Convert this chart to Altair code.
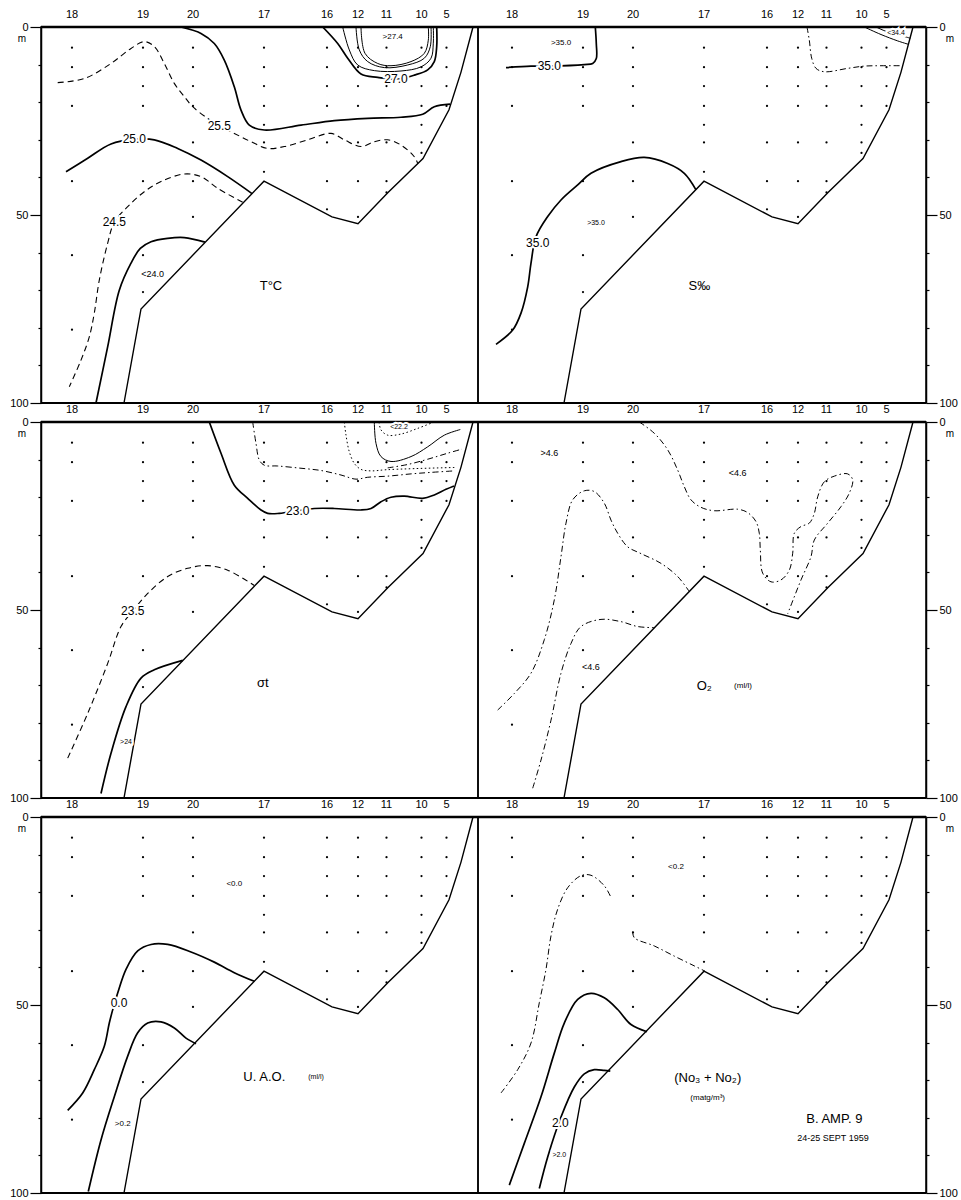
import altair as alt
import pandas as pd

FONT = "Liberation Sans"
W_LEFT, W_RIGHT, H = 437, 448, 376
X_LEFT, X_RIGHT = [0, 437], [-3, 445]

# ---------------- stations & sample points ----------------
STATIONS = ["18", "19", "20", "17", "16", "12", "11", "10", "5"]
STATION_X = [31, 102, 152, 223, 286, 317, 345.5, 380.5, 405.5]
DEPTHS_18 = [5.5, 10.7, 21, 41, 60.7, 80.5]
DEPTHS_19 = [5.5, 10.7, 15.7, 21, 41, 60.7, 70.5]
DEPTHS_20 = [5.5, 10.7, 15.7, 21, 30.7, 41, 50.5]
DEPTHS_17 = [5.5, 10.7, 15.7, 21, 26, 30.7, 38.5]
DEPTHS_16 = [5.5, 10.7, 15.7, 21, 30.7, 41, 48.5]
DEPTHS_12 = [5.5, 10.7, 15.7, 21, 30.7, 41, 50.5]
DEPTHS_11 = [5.5, 10.7, 15.7, 21, 30.7, 41, 44]
DEPTHS_10 = [5.5, 10.7, 15.7, 21, 26, 30.7, 33.5]
DEPTHS_5 = [5.5, 10.7, 15.7, 21]
SAMPLE_DEPTHS = [DEPTHS_18, DEPTHS_19, DEPTHS_20, DEPTHS_17, DEPTHS_16,
                 DEPTHS_12, DEPTHS_11, DEPTHS_10, DEPTHS_5]

SEAFLOOR = [(83, 100), (100, 75), (223, 41), (291, 50.5), (317, 52.3),
            (347, 44), (382, 35), (408, 22), (420, 12), (432, 0)]

# ---------------- T °C ----------------
T_27_0 = [(281.7, 0), (296.7, 4.4), (306.7, 8.3), (320, 12.5), (336.7, 13.4), (355, 13.9),
          (373.3, 12.8), (386.7, 11.4), (393.3, 9.2), (395.7, 5.2), (395.7, 0)]
T_27_B = [(301.7, 0), (308.3, 6.1), (316.7, 10.1), (333.3, 11.6), (360, 11.7), (380, 10.6),
          (390, 8.3), (392.3, 4.3), (392.3, 0)]
T_27_C = [(315, 0), (318.3, 6.1), (326.7, 9.2), (343.3, 10.8), (366.7, 10.1), (383.3, 8.3),
          (389.3, 5.2), (390, 0)]
T_27_D = [(320, 0), (324, 7), (336.7, 9.7), (350, 10.3), (370, 9.2), (383.3, 7),
          (387.3, 3.5), (387.3, 0)]
T_26 = [(140, 0), (160, 1.7), (173.3, 4.4), (183.3, 8.8), (193.3, 15.9), (200, 22.1),
        (208.3, 26.1), (223.3, 27.4), (260, 26.1), (293.3, 24.9), (326.7, 24.3), (360, 24),
        (381.7, 23.2), (393.3, 21.2), (409, 20.5)]
T_25_5 = [(16.7, 14.8), (43.3, 13.7), (70, 9.7), (90, 5.7), (103.3, 3.9), (113.3, 5.2),
          (123.3, 9.7), (133.3, 15), (143.3, 18.5), (151.7, 21.2), (166.7, 24.3), (178.3, 26.3),
          (193.3, 28.3), (210, 30.5), (226.7, 32.3), (243.3, 31.8), (266.7, 30), (290, 28.3),
          (303.3, 30), (320, 31.8), (333.3, 30.5), (346.7, 30), (360, 31.4), (373.3, 34.5),
          (376.7, 36.3)]
T_25_0 = [(25, 38.5), (46.7, 34.9), (70, 31.1), (93.3, 29.9), (113.3, 30), (136.7, 32.3),
          (160, 35.4), (186.7, 39.8), (211, 44.3)]
T_24_5 = [(201.7, 46.6), (176.7, 42.9), (160, 39.8), (143.3, 39.1), (120, 41.1), (103.3, 43.8),
          (86.7, 47.8), (73.3, 51.9), (66.7, 57.5), (58.3, 67.3), (53.3, 76.1), (48.3, 82.4),
          (40, 88.6), (28.3, 95.7)]
T_24_0 = [(55, 100), (66.7, 85), (78.3, 70), (90, 62.8), (99.3, 58.9), (110, 57.1),
          (126.7, 56.2), (143.3, 56), (164, 57.2)]
T_TEXT = [">27.4", "27.0", "25.5", "25.0", "24.5", "<24.0", "T°C"]
T_TEXT_X = [351.7, 355, 178.3, 93.3, 73.3, 111.7, 230]
T_TEXT_D = [2.6, 13.9, 26.3, 29.9, 51.9, 65.7, 68.9]
T_TEXT_KIND = ["s", "b", "b", "b", "b", "m", "t"]

# ---------------- S ‰ ----------------
S_35_TOP = [(114.3, 0), (115.3, 4.4), (115.3, 8.4), (111.7, 9.7), (103.3, 10), (68.3, 10.4),
            (50, 10.4), (25, 10.8)]
S_35_LOW = [(15, 84.4), (31.7, 80.6), (40, 76.1), (46.7, 69.1), (50, 62.8), (55, 55.8),
            (66.7, 50.4), (80, 46), (96.7, 42), (110, 38.9), (140, 35.8), (163.3, 34.7),
            (186.7, 36.3), (203.3, 38.9), (215, 43.3)]
S_COAST = [(326, 0), (328.3, 3.5), (330.7, 8.3), (335, 11), (343.3, 11.9), (366.7, 11),
           (383.3, 10.4), (400, 10.3), (421, 10.3)]
S_34_4_A = [(383.3, 0), (400, 2), (416.7, 3.7), (427.3, 4.6)]
S_34_4_B = [(395, 0), (408.3, 1.5), (421.7, 2.4), (429.3, 3)]
S_TEXT = [">35.0", "35.0", "<34.4", "35.0", ">35.0", "S‰"]
S_TEXT_X = [80, 68.3, 415, 56.7, 115, 218.3]
S_TEXT_D = [4.2, 10.4, 1.5, 57.4, 52.2, 69]
S_TEXT_KIND = ["s", "b", "xs", "b", "xs", "t"]

# ---------------- sigma-t ----------------
G_23_0 = [(168.3, 0), (180, 8.3), (193.3, 16.8), (206.7, 20.3), (220, 23.4), (226.7, 24.3),
          (238.3, 24.3), (256.7, 23.6), (273.3, 23), (293.3, 23), (320, 23.4), (330, 23),
          (340, 21.2), (350, 20), (363.3, 19.7), (381.7, 20.3), (393.3, 19.4), (405, 17.9),
          (413, 17)]
G_A = [(211.7, 0), (215, 5.7), (218.3, 10.1), (223.3, 11.5), (236.7, 11.7), (260, 12.3),
       (280, 12.9), (300, 14.1), (315, 15.2), (326.7, 14.7), (346.7, 14.4), (370, 13.8),
       (390, 13.4), (413.3, 13)]
G_B = [(303.3, 0), (305, 3.5), (308.3, 7.9), (313.3, 11), (320, 12.6), (330, 13),
       (345, 12.7), (373.3, 12.4), (413.3, 12.1)]
G_C = [(333.3, 0), (335, 5.7), (340, 9.2), (350, 10.5), (370, 9.2), (386.7, 6.6),
       (403.3, 3.5), (419.3, 2)]
G_D = [(346.7, 12.2), (366.7, 11.3), (386.7, 9.9), (406.7, 8.3), (421, 7.2)]
G_E = [(338, 0), (340, 2.1), (346.7, 3.5), (360, 3.2), (376.7, 1.7), (393, 0)]
G_23_5 = [(26.7, 89.4), (46.7, 77.5), (66.7, 64.2), (80, 54.4), (91.7, 50.3), (106.7, 45.6),
          (126.7, 41.1), (146.7, 38.9), (166.7, 38.2), (186.7, 39.4), (213.3, 43.5)]
G_24 = [(60, 98.8), (70, 88.1), (85, 75.7), (100, 68.1), (113.3, 65.9), (141.7, 63.4)]
G_TEXT = ["<22.2", "23.0", "23.5", ">24", "σt"]
G_TEXT_X = [358, 256.7, 91.7, 85, 221.7]
G_TEXT_D = [1.3, 23.6, 50.3, 85, 69.5]
G_TEXT_KIND = ["xs", "b", "b", "xs", "t"]

# ---------------- O2 ----------------
O_A = [(158.3, 0), (173.3, 3), (186.7, 7.4), (196.7, 12.8), (203.3, 17.2), (210, 20.7),
       (220, 22.7), (233.3, 23.6), (256.7, 23.2), (266.7, 24.1), (275, 26.5), (278.3, 29.6),
       (279.3, 34), (281.7, 40.2), (290, 42.5), (300, 42), (308.3, 39.4), (311.7, 34.9),
       (313.3, 29.6), (320, 27.8), (328.3, 26.9), (333.3, 24.3), (336.7, 19.9), (343.3, 15.9),
       (353.3, 14.4), (366.7, 13.8), (371.7, 15.4), (368.3, 18.9), (360, 22.5), (346.7, 26.9),
       (333.3, 31.4), (330, 35.8), (320, 42), (306.7, 51)]
O_B = [(16.7, 76.6), (33.3, 72.2), (50, 66.8), (63.3, 57.9), (73.3, 47.3), (80, 35.8),
       (85, 26.9), (91.7, 20.7), (103.3, 18.3), (113.3, 18.5), (123.3, 21.6), (130, 26.1),
       (136.7, 29.6), (146.7, 33.2), (160, 35), (180, 37.6), (196.7, 41.1), (208.3, 45.1)]
O_C = [(51.7, 97.4), (60, 89.9), (70, 79.3), (80, 66.8), (90, 58.9), (100, 54.4),
       (120, 52.5), (140, 53.1), (156.7, 54.4), (173.3, 54.7)]
O_TEXT = [">4.6", "<4.6", "<4.6", "O₂", "(ml/l)"]
O_TEXT_X = [68.3, 256.7, 110, 223.3, 262]
O_TEXT_D = [8.2, 13.6, 65.1, 70.2, 70.2]
O_TEXT_KIND = ["m", "m", "m", "t", "s"]

# ---------------- U.A.O. ----------------
U_0_0 = [(26.7, 78), (41.7, 73.4), (53.3, 67.2), (63.3, 61), (68.3, 54.8), (72.5, 50.5),
         (76.7, 46.8), (85, 40.5), (96.7, 35.6), (110, 33.9), (126.7, 33.9), (150, 35.9),
         (173.3, 38.6), (193.3, 41.4), (213.3, 43.7)]
U_0_2 = [(47.3, 99.6), (60, 85.9), (73.3, 74.4), (86.7, 63.6), (96.7, 57.4), (106.7, 54.8),
         (120, 54.5), (133.3, 56.1), (145, 58.8), (155, 60.3)]
U_TEXT = ["0.0", ">0.2", "<0.0", "U. A.O.", "(ml/l)"]
U_TEXT_X = [78, 81.7, 193.3, 223.3, 275]
U_TEXT_D = [49.6, 81.7, 17.9, 69.2, 69.2]
U_TEXT_KIND = ["b", "s", "s", "t", "xs"]

# ---------------- NO3 + NO2 ----------------
N_A = [(20, 73.4), (36.7, 67.2), (50, 60.1), (58.3, 49.4), (65, 40.5), (70, 31.6),
       (76.7, 24.5), (86.7, 18.8), (100, 15.6), (110, 15.5), (123.3, 18.3), (130, 21.4)]
N_B = [(151.7, 30.5), (153.3, 32.1), (173.3, 34.3), (193.3, 37), (213.3, 39.6), (224, 41)]
N_2_0 = [(28.3, 97.9), (43.3, 86.8), (60, 74.4), (73.3, 62.8), (83.3, 54.8), (96.7, 48.5),
         (110, 46.9), (123.3, 48.1), (136.7, 51.2), (150, 55.2), (166, 57.1)]
N_2_1 = [(58.3, 98.8), (66.7, 90.4), (80, 79.8), (93.3, 71.8), (103.3, 68.3), (113.3, 67.2),
         (123.3, 67.4), (129.3, 67.6)]
N_TEXT = ["2.0", ">2.0", "<0.2", "(No₃ + No₂)", "(matg/m³)", "B. AMP. 9", "24-25  SEPT  1959"]
N_TEXT_X = [79.3, 78.3, 195, 226.7, 226.7, 353.3, 352]
N_TEXT_D = [81.4, 90, 13.4, 69.5, 74.8, 80.3, 85.3]
N_TEXT_KIND = ["b", "xs", "s", "t", "s", "t", "m"]

# ---------------- styling ----------------
STYLE = {
    "bold": dict(strokeWidth=1.7),
    "thin": dict(strokeWidth=1.0),
    "dash": dict(strokeWidth=1.1, strokeDash=[6, 4]),
    "dashdot": dict(strokeWidth=1.0, strokeDash=[6, 3, 1.5, 3]),
    "dot": dict(strokeWidth=1.0, strokeDash=[1.5, 2.5]),
}
FSIZE = {"xs": 7, "s": 8, "m": 9, "b": 12, "t": 13}


def yenc(side):
    return alt.Y(
        "d:Q",
        scale=alt.Scale(domain=[0, 100], reverse=True, nice=False, zero=False),
        axis=alt.Axis(
            orient=side, values=list(range(0, 101, 10)),
            labelExpr="datum.value % 50 === 0 ? datum.label : ''",
            tickSize={"condition": {"test": "datum.value % 50 === 0", "value": 11}, "value": 3},
            title=None, grid=False, labelFontSize=11, labelFont=FONT, labelColor="black",
            tickColor="black", domainColor="black", domainWidth=1.5, tickWidth=1.2,
            labelPadding=2,
        ),
    )


def panel(curves, texts, tx, td, tk, w, dom, side):
    X = alt.X("x:Q", scale=alt.Scale(domain=dom, nice=False, zero=False), axis=None)
    Y = yenc(side)
    layers = []
    one = pd.DataFrame({"a": [0]})
    layers.append(alt.Chart(one).mark_rule(color="black", strokeWidth=2.6).encode(
        x=alt.value(0), x2=alt.value(w), y=alt.value(0)))
    layers.append(alt.Chart(one).mark_rule(color="black", strokeWidth=2).encode(
        x=alt.value(0), x2=alt.value(w), y=alt.value(H)))
    sf = pd.DataFrame({"x": [p[0] for p in SEAFLOOR], "d": [p[1] for p in SEAFLOOR],
                       "i": list(range(len(SEAFLOOR)))})
    layers.append(alt.Chart(sf).mark_line(color="black", strokeWidth=1.4).encode(
        x=X, y=Y, order="i:Q"))
    rows = []
    for k, (pts, style) in enumerate(curves):
        for i, (x, d) in enumerate(pts):
            rows.append({"x": x, "d": d, "i": i, "id": k, "style": style})
    cdf = pd.DataFrame(rows)
    for st in STYLE:
        sub = cdf[cdf["style"] == st]
        if len(sub) == 0:
            continue
        layers.append(alt.Chart(sub).mark_line(
            color="black", interpolate="catmull-rom", clip=True, **STYLE[st]).encode(
            x=X, y=Y, detail="id:N", order="i:Q"))
    drows = []
    for sx, deps in zip(STATION_X, SAMPLE_DEPTHS):
        for d in deps:
            drows.append({"x": sx, "d": d})
    layers.append(alt.Chart(pd.DataFrame(drows)).mark_circle(
        color="black", size=5, opacity=1).encode(x=X, y=Y))
    tdf = pd.DataFrame({"t": texts, "x": tx, "d": td, "fs": [FSIZE[k] for k in tk]})
    layers.append(alt.Chart(tdf).mark_text(
        font=FONT, stroke="white", strokeWidth=4, fill="white", baseline="middle").encode(
        x=X, y=Y, text="t:N", size=alt.Size("fs:Q", scale=None)))
    layers.append(alt.Chart(tdf).mark_text(
        font=FONT, color="black", baseline="middle").encode(
        x=X, y=Y, text="t:N", size=alt.Size("fs:Q", scale=None)))
    stdf = pd.DataFrame({"t": STATIONS, "x": STATION_X})
    layers.append(alt.Chart(stdf).mark_text(
        font=FONT, fontSize=11, color="black", baseline="middle").encode(
        x=X, y=alt.value(-12), text="t:N"))
    mx = -19 if side == "left" else w + 24
    layers.append(alt.Chart(pd.DataFrame({"t": ["m"]})).mark_text(
        font=FONT, fontSize=10, color="black", baseline="middle").encode(
        x=alt.value(mx), y=alt.value(12), text="t:N"))
    return alt.layer(*layers).properties(width=w, height=H)


p_T = panel([(T_27_0, "bold"), (T_27_B, "thin"), (T_27_C, "thin"), (T_27_D, "thin"),
             (T_26, "bold"), (T_25_5, "dash"), (T_25_0, "bold"), (T_24_5, "dash"),
             (T_24_0, "bold")],
            T_TEXT, T_TEXT_X, T_TEXT_D, T_TEXT_KIND, W_LEFT, X_LEFT, "left")
p_S = panel([(S_35_TOP, "bold"), (S_35_LOW, "bold"), (S_COAST, "dashdot"),
             (S_34_4_A, "thin"), (S_34_4_B, "thin")],
            S_TEXT, S_TEXT_X, S_TEXT_D, S_TEXT_KIND, W_RIGHT, X_RIGHT, "right")
p_G = panel([(G_23_0, "bold"), (G_A, "dashdot"), (G_B, "dot"), (G_C, "thin"),
             (G_D, "dashdot"), (G_E, "dot"), (G_23_5, "dash"), (G_24, "bold")],
            G_TEXT, G_TEXT_X, G_TEXT_D, G_TEXT_KIND, W_LEFT, X_LEFT, "left")
p_O = panel([(O_A, "dashdot"), (O_B, "dashdot"), (O_C, "dashdot")],
            O_TEXT, O_TEXT_X, O_TEXT_D, O_TEXT_KIND, W_RIGHT, X_RIGHT, "right")
p_U = panel([(U_0_0, "bold"), (U_0_2, "bold")],
            U_TEXT, U_TEXT_X, U_TEXT_D, U_TEXT_KIND, W_LEFT, X_LEFT, "left")
p_N = panel([(N_A, "dashdot"), (N_B, "dashdot"), (N_2_0, "bold"), (N_2_1, "bold")],
            N_TEXT, N_TEXT_X, N_TEXT_D, N_TEXT_KIND, W_RIGHT, X_RIGHT, "right")

chart = alt.concat(p_T, p_S, p_G, p_O, p_U, p_N, columns=2,
                   spacing={"row": 19, "column": 0}, bounds="flush").properties(
    padding={"left": 8, "top": 8, "right": 2, "bottom": 2}
).configure_view(stroke="black", strokeWidth=1.5)

chart.save("out.html", embed_options={"renderer": "svg", "actions": False})
